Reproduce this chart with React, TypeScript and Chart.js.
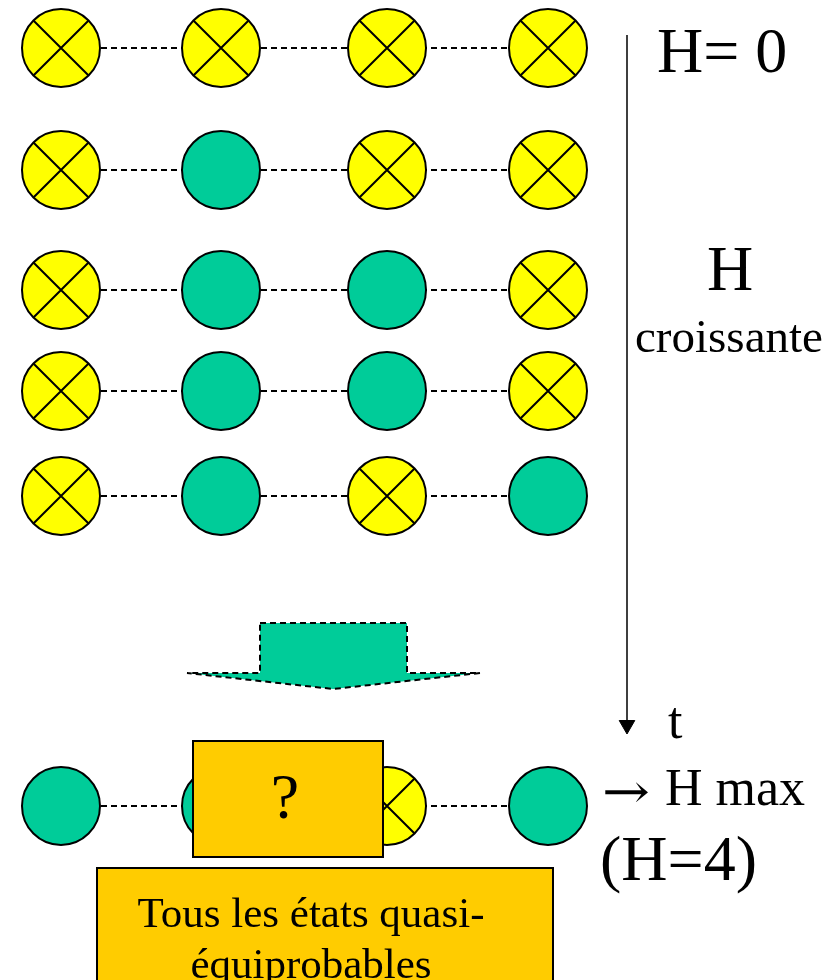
import React, { useEffect, useRef } from 'react';
import { Chart, registerables } from 'chart.js';

Chart.register(...registerables);

// ---- Data (diagram units = page pixels) ----
const columnX = [61, 221, 387, 548];
const rowY = [48, 170, 290, 391, 496, 806];
// 0 = spin "up" (yellow with X), 1 = flipped (teal)
const rowStates = [
  [0, 0, 0, 0],
  [0, 1, 0, 0],
  [0, 1, 1, 0],
  [0, 1, 1, 0],
  [0, 1, 0, 1],
  [1, 1, 0, 1],
];
const timeAxisX = 627;
const timeAxisY = [35, 722];
const arrowHeadY = 725;

const bigArrowPath = [
  [260, 623], [407, 623], [407, 673], [480, 673], [333, 689], [187, 673], [260, 673],
];
const questionBox = [193, 741, 383, 857];
const summaryBox = [97, 868, 553, 1000];

const labelTexts = ['H= 0', 'H', 'croissante', 't', 'H max', '(H=4)', '?', 'Tous les états quasi-', 'équiprobables'];
const labelX = [657, 730, 635, 668, 665, 600, 285, 311, 311];
const labelY = [72, 290, 352, 738, 805, 880, 818, 927, 978];
const labelSize = [64, 64, 47, 52, 52, 64, 64, 43, 43];
const labelAlign = ['left', 'center', 'left', 'left', 'left', 'left', 'center', 'center', 'center'];

const arrowSymbol = '→';
const arrowSymbolX = [602, 650];
const arrowSymbolY = 808;

const YELLOW = '#FFFF00';
const TEAL = '#00CC99';
const ORANGE = '#FFCC00';
const SERIF = '"Liberation Serif", "Times New Roman", serif';

const overlayPlugin = {
  id: 'overlay',
  afterDatasetsDraw(chart: any) {
    const ctx = chart.ctx;
    const xs = chart.scales.x;
    const ys = chart.scales.y;
    const px = (v: number) => xs.getPixelForValue(v);
    const py = (v: number) => ys.getPixelForValue(v);
    ctx.save();

    // big down arrow
    ctx.beginPath();
    bigArrowPath.forEach(([x, y], i) => {
      if (i === 0) ctx.moveTo(px(x), py(y));
      else ctx.lineTo(px(x), py(y));
    });
    ctx.closePath();
    ctx.fillStyle = TEAL;
    ctx.fill();
    ctx.setLineDash([6, 4]);
    ctx.lineWidth = 2;
    ctx.strokeStyle = '#000';
    ctx.stroke();
    ctx.setLineDash([]);

    // boxes
    [questionBox, summaryBox].forEach(([x0, y0, x1, y1]) => {
      const l = px(x0), t = py(y0), r = px(x1), b = py(y1);
      ctx.fillStyle = ORANGE;
      ctx.fillRect(l, t, r - l, b - t);
      ctx.lineWidth = 2;
      ctx.strokeStyle = '#000';
      ctx.strokeRect(l, t, r - l, b - t);
    });

    // texts
    ctx.fillStyle = '#000';
    ctx.textBaseline = 'alphabetic';
    labelTexts.forEach((txt, i) => {
      ctx.font = `${labelSize[i]}px ${SERIF}`;
      ctx.textAlign = labelAlign[i];
      ctx.fillText(txt, px(labelX[i]), py(labelY[i]));
    });

    // arrow symbol stretched to its width
    ctx.font = `48px "DejaVu Serif", ${SERIF}`;
    ctx.textAlign = 'left';
    const w = ctx.measureText(arrowSymbol).width;
    const target = px(arrowSymbolX[1]) - px(arrowSymbolX[0]);
    ctx.translate(px(arrowSymbolX[0]), py(arrowSymbolY));
    ctx.scale(target / w, 1);
    ctx.fillText(arrowSymbol, 0, 0);
    ctx.restore();
  },
};

export default function App() {
  const ref = useRef<HTMLCanvasElement | null>(null);

  useEffect(() => {
    if (!ref.current) return;
    const yellowPts: any[] = [];
    const tealPts: any[] = [];
    rowStates.forEach((row, r) =>
      row.forEach((s, c) => {
        const p = { x: columnX[c], y: rowY[r] };
        (s === 0 ? yellowPts : tealPts).push(p);
      })
    );

    const rowLines = rowY.map((y) => ({
      data: columnX.map((x) => ({ x, y })),
      showLine: true,
      borderColor: '#000',
      borderWidth: 2,
      borderDash: [6, 4],
      pointRadius: 0,
      order: 10,
    }));

    const datasets: any[] = [
      ...rowLines,
      {
        data: yellowPts,
        pointRadius: 39,
        pointBackgroundColor: YELLOW,
        pointBorderColor: '#000',
        pointBorderWidth: 2,
        order: 5,
      },
      {
        data: yellowPts,
        pointStyle: 'crossRot',
        pointRadius: 39,
        pointBorderColor: '#000',
        pointBorderWidth: 2,
        order: 4,
      },
      {
        data: tealPts,
        pointRadius: 39,
        pointBackgroundColor: TEAL,
        pointBorderColor: '#000',
        pointBorderWidth: 2,
        order: 5,
      },
      {
        data: timeAxisY.map((y) => ({ x: timeAxisX, y })),
        showLine: true,
        borderColor: '#000',
        borderWidth: 1.5,
        pointRadius: 0,
        order: 3,
      },
      {
        data: [{ x: timeAxisX, y: arrowHeadY }],
        pointStyle: 'triangle',
        rotation: 180,
        pointRadius: 9,
        pointBackgroundColor: '#000',
        pointBorderColor: '#000',
        pointBorderWidth: 1,
        order: 2,
      },
    ];

    const chart = new Chart(ref.current, {
      type: 'scatter',
      data: { datasets },
      options: {
        responsive: false,
        maintainAspectRatio: false,
        animation: false,
        events: [],
        layout: { padding: 0, autoPadding: false },
        plugins: {
          legend: { display: false },
          tooltip: { enabled: false },
        },
        scales: {
          x: { type: 'linear', min: 0, max: 838, display: false },
          y: { type: 'linear', min: 0, max: 980, reverse: true, display: false },
        },
      } as any,
      plugins: [overlayPlugin],
    });
    return () => chart.destroy();
  }, []);

  return (
    <div style={{ position: 'absolute', left: 0, top: 0, width: 838, height: 980, background: '#fff' }}>
      <canvas ref={ref} width={838} height={980} style={{ display: 'block' }} />
    </div>
  );
}
